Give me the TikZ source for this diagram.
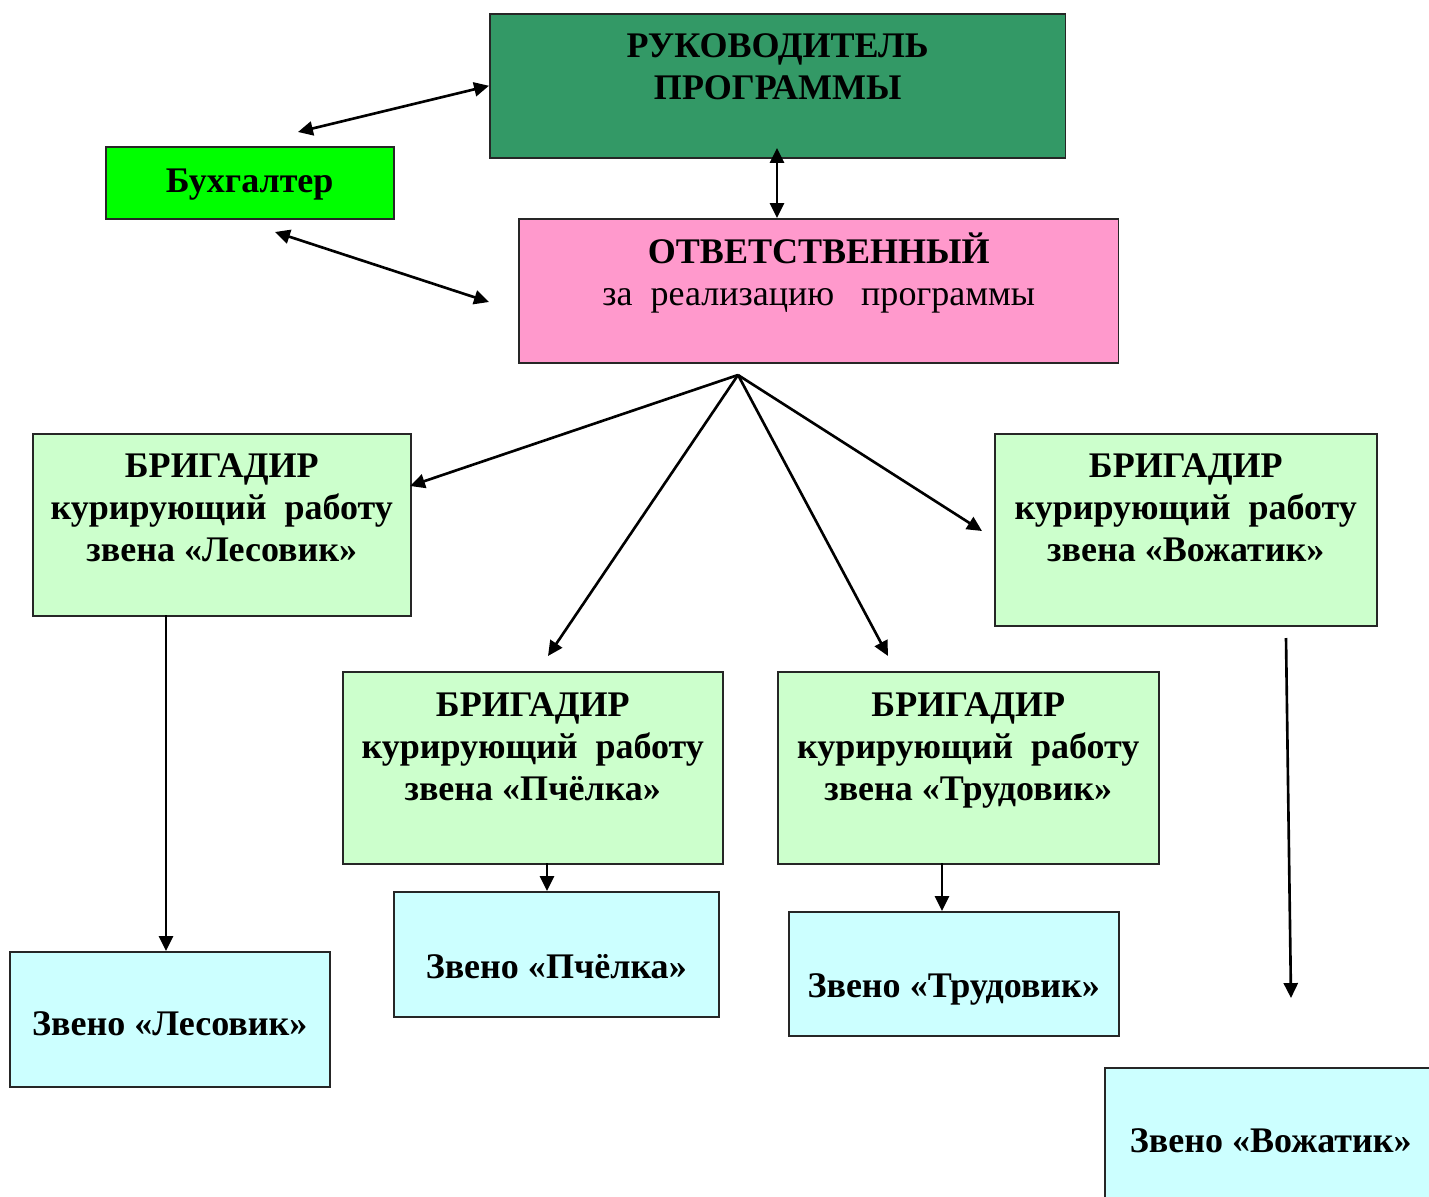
\documentclass[tikz,border=0pt]{standalone}
\usepackage{fontspec}
\setmainfont{Liberation Serif}
\usetikzlibrary{arrows.meta}
\definecolor{rukgreen}{HTML}{339966}
\definecolor{buhgreen}{HTML}{00FF00}
\definecolor{otvpink}{HTML}{FF99CC}
\definecolor{briggreen}{HTML}{CCFFCC}
\definecolor{zvcyan}{HTML}{CCFFFF}
\begin{document}
\begin{tikzpicture}[x=0.02cm, y=-0.02cm, >={Triangle[length=8.5pt,width=8pt]}, line width=1.5pt,
    box/.style={rectangle,draw=black!85,line width=0.9pt,anchor=north west,inner sep=0pt},
    txt/.style={align=center,inner sep=0pt,font=\bfseries\fontsize{20.5}{24}\selectfont}]
    \clip (0,0) rectangle (1429,1196);

    \node[box,fill=rukgreen,minimum width=11.52cm,minimum height=2.88cm,
        label={[txt,yshift=0.38cm]center:{РУКОВОДИТЕЛЬ\\ПРОГРАММЫ}}] (ruk) at (489,13) {};
    \node[box,fill=buhgreen,minimum width=5.76cm,minimum height=1.44cm,
        label={[txt,yshift=-0.04cm]center:{Бухгалтер}}] (buh) at (105,146) {};
    \node[box,fill=otvpink,minimum width=12cm,minimum height=2.88cm,
        label={[txt,yshift=0.36cm]center:{ОТВЕТСТВЕННЫЙ\\\mdseries за~~реализацию~~~программы}}] (otv) at (518,218) {};

    \node[box,fill=briggreen,minimum width=7.56cm,minimum height=3.64cm,
        label={[txt,yshift=0.34cm]center:{БРИГАДИР\\курирующий~~работу\\звена «Лесовик»}}] (brig1) at (32,433) {};
    \node[box,fill=briggreen,minimum width=7.6cm,minimum height=3.84cm,
        label={[txt,yshift=0.42cm]center:{БРИГАДИР\\курирующий~~работу\\звена «Пчёлка»}}] (brig2) at (342,671) {};
    \node[box,fill=briggreen,minimum width=7.62cm,minimum height=3.84cm,
        label={[txt,yshift=0.34cm]center:{БРИГАДИР\\курирующий~~работу\\звена «Трудовик»}}] (brig3) at (777,671) {};
    \node[box,fill=briggreen,minimum width=7.64cm,minimum height=3.84cm,
        label={[txt,yshift=0.44cm]center:{БРИГАДИР\\курирующий~~работу\\звена «Вожатик»}}] (brig4) at (994,433) {};

    \node[box,fill=zvcyan,minimum width=6.4cm,minimum height=2.7cm,
        label={[txt,yshift=-0.08cm]center:{Звено «Лесовик»}}] (zv1) at (9,951) {};
    \node[box,fill=zvcyan,minimum width=6.5cm,minimum height=2.5cm,
        label={[txt,yshift=-0.25cm]center:{Звено «Пчёлка»}}] (zv2) at (393,891) {};
    \node[box,fill=zvcyan,minimum width=6.6cm,minimum height=2.48cm,
        label={[txt,yshift=-0.32cm]center:{Звено «Трудовик»}}] (zv3) at (788,911) {};
    \node[box,fill=zvcyan,minimum width=6.64cm,minimum height=2.92cm,
        label={[txt]center:{Звено «Вожатик»}}] (zv4) at (1104,1067) {};

    % free ends of the connectors
    \coordinate (rukend) at (298,132);
    \coordinate (buhend) at (275,232);
    \coordinate (otvend) at (489,302);
    \coordinate (rukbot) at (777,148);
    \coordinate (hub) at (738,375);
    \coordinate (to1) at (410,486);
    \coordinate (to2) at (548,656);
    \coordinate (to3) at (888,656);
    \coordinate (to4) at (982,531);
    \coordinate (from1) at (166,615);
    \coordinate (from2) at (547,863);
    \coordinate (from3) at (942,863);
    \coordinate (from4) at (1286,638);
    \coordinate (to4b) at (1291,998);

    \path[<->]
        (ruk.west) edge (rukend)
        (buhend) edge (otvend)
        (rukbot) edge (rukbot |- otv.north);
    \path[->]
        (hub) edge (to1)
        (hub) edge (to2)
        (hub) edge (to3)
        (hub) edge (to4)
        (from1) edge (from1 |- zv1.north)
        (from2) edge (from2 |- zv2.north)
        (from3) edge (from3 |- zv3.north)
        (from4) edge (to4b);
\end{tikzpicture}
\end{document}
